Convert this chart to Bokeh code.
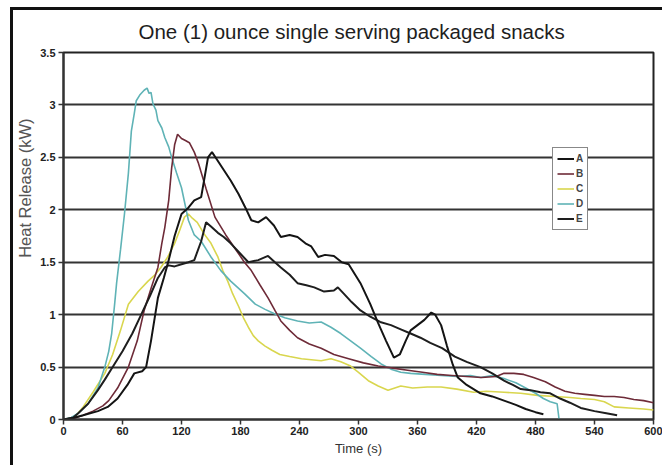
from bokeh.plotting import figure
from bokeh.models import FixedTicker, Legend, LegendItem, Range1d, Title
from bokeh.embed import file_html
from bokeh.resources import INLINE

# ---- data ----
x_ticks = [0, 60, 120, 180, 240, 300, 360, 420, 480, 540, 600]
y_ticks = [0, 0.5, 1, 1.5, 2, 2.5, 3, 3.5]
y_tick_labels = ["0", "0.5", "1", "1.5", "2", "2.5", "3", "3.5"]
series_names = ["A", "B", "C", "D", "E"]

a_t = [0, 8, 20, 35, 45, 55, 65, 72, 80, 84, 89, 96, 102, 107, 113, 120, 127, 133, 140, 147, 151, 156, 163, 170, 178, 185, 191, 198, 206, 214, 221, 230, 238, 246, 252, 259, 266, 275, 283, 290, 302, 312, 320, 328, 336, 342, 348, 353, 360, 367, 374, 378, 384, 390, 396, 401, 410, 424, 436, 448, 460, 470, 480, 488]
a_v = [0, 0.01, 0.04, 0.08, 0.12, 0.2, 0.33, 0.44, 0.46, 0.5, 0.75, 1.16, 1.35, 1.52, 1.75, 1.96, 2.02, 2.09, 2.12, 2.5, 2.55, 2.48, 2.38, 2.28, 2.15, 2.02, 1.90, 1.88, 1.93, 1.85, 1.74, 1.76, 1.74, 1.68, 1.65, 1.55, 1.57, 1.56, 1.50, 1.48, 1.30, 1.10, 0.92, 0.75, 0.59, 0.62, 0.75, 0.85, 0.90, 0.95, 1.02, 1.00, 0.90, 0.70, 0.52, 0.40, 0.33, 0.25, 0.22, 0.18, 0.14, 0.10, 0.07, 0.05]

b_t = [0, 10, 20, 30, 40, 46, 55, 66, 75, 82, 89, 96, 100, 103, 107, 110, 113, 116, 120, 124, 128, 133, 137, 145, 154, 165, 176, 184, 191, 200, 208, 215, 221, 230, 238, 250, 262, 275, 290, 305, 320, 335, 350, 365, 380, 395, 410, 425, 440, 448, 458, 468, 478, 490, 500, 510, 520, 530, 540, 550, 560, 570, 580, 590, 600]
b_v = [0, 0.01, 0.04, 0.08, 0.13, 0.18, 0.3, 0.5, 0.75, 1.04, 1.25, 1.45, 1.68, 1.83, 2.09, 2.4, 2.62, 2.72, 2.68, 2.66, 2.64, 2.55, 2.45, 2.20, 1.93, 1.76, 1.61, 1.50, 1.42, 1.28, 1.16, 1.04, 0.94, 0.85, 0.78, 0.72, 0.68, 0.62, 0.58, 0.54, 0.51, 0.49, 0.47, 0.45, 0.43, 0.42, 0.41, 0.40, 0.41, 0.44, 0.44, 0.43, 0.40, 0.36, 0.31, 0.27, 0.25, 0.24, 0.23, 0.22, 0.22, 0.21, 0.19, 0.18, 0.16]

c_t = [0, 11, 20, 30, 42, 50, 58, 66, 76, 86, 93, 99, 106, 113, 118, 123, 127, 131, 136, 143, 150, 157, 162, 167, 172, 178, 183, 188, 193, 198, 205, 212, 220, 230, 242, 252, 262, 272, 282, 292, 300, 310, 320, 330, 343, 355, 370, 384, 400, 417, 430, 448, 465, 482, 500, 515, 526, 540, 550, 560, 575, 590, 600]
c_v = [0, 0.02, 0.12, 0.26, 0.44, 0.62, 0.85, 1.10, 1.22, 1.32, 1.38, 1.45, 1.55, 1.68, 1.80, 1.93, 1.96, 1.92, 1.88, 1.77, 1.68, 1.55, 1.42, 1.32, 1.20, 1.08, 0.97, 0.88, 0.80, 0.75, 0.70, 0.66, 0.62, 0.60, 0.58, 0.57, 0.56, 0.58, 0.55, 0.51, 0.45, 0.37, 0.32, 0.28, 0.32, 0.30, 0.31, 0.31, 0.29, 0.26, 0.27, 0.26, 0.25, 0.23, 0.22, 0.21, 0.20, 0.19, 0.17, 0.12, 0.11, 0.10, 0.09]

d_t = [0, 8, 15, 25, 35, 42, 46, 49, 52, 54, 58, 62, 66, 69, 72, 74, 78, 82, 85, 87, 89, 91, 94, 96, 100, 103, 107, 110, 115, 120, 127, 133, 140, 150, 160, 170, 184, 195, 205, 214, 225, 238, 250, 262, 272, 282, 292, 302, 313, 323, 333, 343, 353, 368, 384, 400, 414, 424, 436, 448, 460, 470, 480, 488, 495, 502, 504]
d_v = [0, 0.02, 0.06, 0.15, 0.3, 0.5, 0.65, 0.82, 1.1, 1.30, 1.62, 1.96, 2.35, 2.75, 2.92, 3.04, 3.10, 3.14, 3.16, 3.11, 3.12, 3.01, 2.95, 2.85, 2.78, 2.69, 2.60, 2.50, 2.35, 2.21, 1.90, 1.76, 1.70, 1.55, 1.42, 1.32, 1.20, 1.10, 1.05, 1.01, 0.97, 0.94, 0.92, 0.93, 0.88, 0.82, 0.75, 0.68, 0.60, 0.53, 0.48, 0.45, 0.44, 0.43, 0.42, 0.41, 0.42, 0.40, 0.42, 0.39, 0.35, 0.30, 0.25, 0.20, 0.17, 0.15, 0.0]

e_t = [0, 10, 15, 25, 35, 42, 50, 60, 70, 79, 88, 96, 103, 107, 113, 120, 127, 133, 140, 145, 150, 157, 163, 170, 178, 188, 198, 208, 215, 221, 230, 238, 247, 255, 265, 275, 279, 285, 293, 302, 312, 322, 333, 343, 353, 363, 373, 385, 398, 410, 424, 436, 448, 457, 465, 475, 485, 495, 505, 515, 526, 540, 552, 563]
e_v = [0, 0.02, 0.06, 0.15, 0.28, 0.38, 0.50, 0.65, 0.82, 1.0, 1.18, 1.35, 1.45, 1.47, 1.46, 1.48, 1.50, 1.52, 1.70, 1.88, 1.84, 1.78, 1.74, 1.68, 1.60, 1.50, 1.52, 1.56, 1.50, 1.45, 1.38, 1.30, 1.28, 1.26, 1.22, 1.23, 1.26, 1.20, 1.12, 1.04, 0.98, 0.93, 0.90, 0.86, 0.82, 0.78, 0.73, 0.68, 0.60, 0.55, 0.50, 0.44, 0.37, 0.33, 0.29, 0.28, 0.26, 0.25, 0.20, 0.16, 0.11, 0.08, 0.06, 0.04]

FONT = "Liberation Sans"

p = figure(width=652, height=458,
           x_range=Range1d(0, 600), y_range=Range1d(0, 3.5),
           output_backend="svg", toolbar_location=None,
           min_border_left=49, min_border_right=12,
           min_border_top=42, min_border_bottom=49,
           background_fill_color="white", border_fill_color="white")
p.styles = {"margin-left": "10px", "margin-top": "7px",
            "border-left": "3px solid #111", "border-top": "3px solid #111"}

p.title.text = "One (1) ounce single serving packaged snacks"
p.title.align = "left"
p.title.offset = 75
p.title.vertical_align = "top"
p.title.text_font = FONT
p.title.text_font_size = "20.5px"
p.title.text_font_style = "normal"
p.title.text_color = "#1e1e1e"
p.title.standoff = 16

p.outline_line_color = "#222"
p.outline_line_width = 2

p.xgrid.visible = False
p.ygrid.ticker = FixedTicker(ticks=y_ticks)
p.ygrid.grid_line_color = "#333"
p.ygrid.grid_line_width = 2

p.xaxis.ticker = FixedTicker(ticks=x_ticks)
p.yaxis.ticker = FixedTicker(ticks=y_ticks)
p.yaxis.major_label_overrides = {t: l for t, l in zip(y_ticks, y_tick_labels)}
for ax in (p.xaxis[0], p.yaxis[0]):
    ax.axis_line_color = "#333"
    ax.axis_line_width = 2
    ax.major_tick_line_color = "#333"
    ax.major_tick_line_width = 1.5
    ax.major_tick_out = 5
    ax.major_tick_in = 0
    ax.minor_tick_out = 0
    ax.minor_tick_in = 0
    ax.major_label_text_font = FONT
    ax.major_label_text_font_style = "bold"
    ax.major_label_text_font_size = "11px"
    ax.major_label_text_color = "#222"
    ax.axis_label_text_font = FONT
    ax.axis_label_text_font_style = "normal"
    ax.axis_label_text_color = "#333"
p.xaxis.axis_label = "Time (s)"
p.xaxis.axis_label_text_font_size = "13px"
p.xaxis.major_label_standoff = 2
p.xaxis.axis_label_standoff = 3
p.yaxis.major_label_standoff = 3

# y-axis title: sits above the frame's middle in the reference
ytitle = Title(text="Heat Release (kW)", align="right", offset=66,
               vertical_align="top", standoff=4,
               text_font=FONT, text_font_size="16.5px",
               text_font_style="normal", text_color="#555")
p.add_layout(ytitle, "left")

colors = {"A": "#141414", "B": "#6e2b38", "C": "#d9d64e", "D": "#5fb3b6", "E": "#1e1e1e"}
widths = {"A": 2, "B": 1.6, "C": 1.6, "D": 1.6, "E": 2}
data = {"A": (a_t, a_v), "B": (b_t, b_v), "C": (c_t, c_v), "D": (d_t, d_v), "E": (e_t, e_v)}

renderers = {}
for name in ["C", "D", "B", "E", "A"]:
    t, v = data[name]
    renderers[name] = p.line(t, v, line_color=colors[name], line_width=widths[name])

legend = Legend(items=[LegendItem(label=n, renderers=[renderers[n]]) for n in series_names],
                location=(489, 189))
legend.border_line_color = "#111"
legend.border_line_width = 1
legend.background_fill_color = "white"
legend.background_fill_alpha = 1
legend.label_text_font = FONT
legend.label_text_font_style = "bold"
legend.label_text_font_size = "10px"
legend.label_width = 7
legend.label_height = 13
legend.glyph_height = 13
legend.glyph_width = 17
legend.label_standoff = 2
legend.spacing = 2
legend.padding = 4
legend.margin = 0
p.add_layout(legend)

open("out.html", "w").write(file_html(p, INLINE))
